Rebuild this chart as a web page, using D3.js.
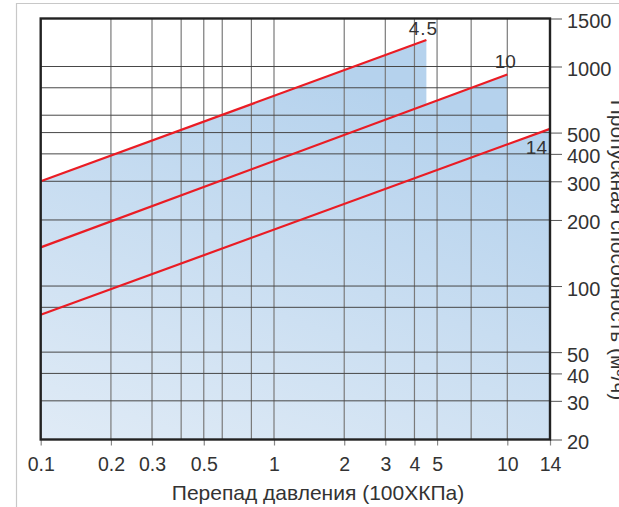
<!DOCTYPE html>
<html>
<head>
<meta charset="utf-8">
<script src="https://cdn.jsdelivr.net/npm/d3@7"></script>
<style>
  body { margin: 0; background: #fff; }
  text { font-family: "Liberation Sans", Arial, sans-serif; fill: #333; }
</style>
</head>
<body>
<svg width="619" height="507"></svg>
<script>
const svg = d3.select("svg");

// curve labels (max pressure) and their end points
const seriesNames = ["4.5", "10", "14"];
const startPressure = [0.1, 0.1, 0.1];
const endPressure = [4.5, 10, 14];
const startFlow = [300, 150, 74];
const endFlow = [1250, 920, 520];

// axis ticks and grid
const xTickValues = [0.1, 0.2, 0.3, 0.5, 1, 2, 3, 4, 5, 10, 14];
const xGridValues = [0.2, 0.3, 0.4, 0.5, 0.6, 0.8, 1, 2, 3, 4, 5, 7, 10];
const yTickValues = [20, 30, 40, 50, 100, 200, 300, 400, 500, 1000, 1500];
const yGridValues = [30, 40, 50, 80, 100, 200, 300, 400, 500, 600, 800, 1000];

const plotLeft = 40.7, plotRight = 550, plotTop = 18.5, plotBottom = 439.5;

// log scales; the last segment (10..14, 1000..1500) is drawn a bit stretched like the original
const xScale = d3.scaleLog().domain([0.1, 10, 14]).range([plotLeft, 507.3, plotRight]);
const yScale = d3.scaleLog().domain([20, 1000, 1500]).range([plotBottom, 66.5, plotTop]);

// outer light frame
svg.append("path")
  .attr("d", "M16.5,507 L16.5,3.5 L619,3.5")
  .attr("fill", "none")
  .attr("stroke", "#c8c8c8")
  .attr("stroke-width", 1.2);

// gradient for the area
const grad = svg.append("defs").append("linearGradient")
  .attr("id", "area")
  .attr("gradientUnits", "userSpaceOnUse")
  .attr("x1", plotLeft).attr("y1", plotBottom)
  .attr("x2", plotLeft + 150).attr("y2", plotTop);
grad.append("stop").attr("offset", "0%").attr("stop-color", "#e0ebf6");
grad.append("stop").attr("offset", "100%").attr("stop-color", "#b5d2ed");

const data = seriesNames.map((name, i) => ({
  name,
  p0: startPressure[i], p1: endPressure[i],
  q0: startFlow[i], q1: endFlow[i]
}));

// area under each curve
svg.selectAll("path.area")
  .data(data)
  .enter()
  .append("path")
  .attr("class", "area")
  .attr("fill", "url(#area)")
  .attr("d", d =>
    `M${xScale(d.p0)},${plotBottom} L${xScale(d.p0)},${yScale(d.q0)} ` +
    `L${xScale(d.p1)},${yScale(d.q1)} L${xScale(d.p1)},${plotBottom} Z`);

// vertical grid
svg.append("g").selectAll("line")
  .data(xGridValues)
  .enter()
  .append("line")
  .attr("x1", d => xScale(d)).attr("x2", d => xScale(d))
  .attr("y1", plotTop).attr("y2", plotBottom)
  .attr("stroke", "#7a7a7a")
  .attr("stroke-width", 1.2);

// horizontal grid
svg.append("g").selectAll("line")
  .data(yGridValues)
  .enter()
  .append("line")
  .attr("x1", plotLeft).attr("x2", plotRight)
  .attr("y1", d => yScale(d)).attr("y2", d => yScale(d))
  .attr("stroke", "#474747")
  .attr("stroke-width", 1);

// bottom axis
const xAxisG = svg.append("g")
  .attr("transform", `translate(0,${plotBottom})`)
  .call(d3.axisBottom(xScale).tickValues(xTickValues).tickFormat(d3.format("")).tickSize(6).tickPadding(12));
xAxisG.select(".domain").remove();
xAxisG.selectAll(".tick line").attr("stroke", "#888").attr("stroke-width", 1.2);
xAxisG.selectAll(".tick text")
  .attr("font-size", 19.5)
  .attr("font-family", "Liberation Sans, Arial, sans-serif")
  .attr("fill", "#333");

// right axis
const yAxisG = svg.append("g")
  .attr("transform", `translate(${plotRight},0)`)
  .call(d3.axisRight(yScale).tickValues(yTickValues).tickFormat(d3.format("")).tickSize(12).tickPadding(5));
yAxisG.select(".domain").remove();
yAxisG.selectAll(".tick line").attr("stroke", "#555");
yAxisG.selectAll(".tick text")
  .attr("font-size", 20)
  .attr("dy", "0.45em")
  .attr("font-family", "Liberation Sans, Arial, sans-serif")
  .attr("fill", "#333");

// red curves
svg.selectAll("line.curve")
  .data(data)
  .enter()
  .append("line")
  .attr("class", "curve")
  .attr("x1", d => xScale(d.p0)).attr("y1", d => yScale(d.q0))
  .attr("x2", d => xScale(d.p1)).attr("y2", d => yScale(d.q1))
  .attr("stroke", "#ea1c24")
  .attr("stroke-width", 2.2);

// plot frame
svg.append("rect")
  .attr("x", plotLeft).attr("y", plotTop)
  .attr("width", plotRight - plotLeft).attr("height", plotBottom - plotTop)
  .attr("fill", "none")
  .attr("stroke", "#222")
  .attr("stroke-width", 2.4);

// curve labels
const labelDx = [-3, -2, -3];
const labelDy = [-5, -6, 25];
const labelAnchor = ["middle", "middle", "end"];
svg.selectAll("text.curve-label")
  .data(data)
  .enter()
  .append("text")
  .attr("class", "curve-label")
  .attr("x", (d, i) => xScale(d.p1) + labelDx[i])
  .attr("y", (d, i) => yScale(d.q1) + labelDy[i])
  .attr("text-anchor", (d, i) => labelAnchor[i])
  .attr("font-size", 19)
  .attr("letter-spacing", (d, i) => i === 0 ? 1 : 0)
  .text(d => d.name);

// axis titles
svg.append("text")
  .attr("x", 318).attr("y", 500)
  .attr("text-anchor", "middle")
  .attr("font-size", 21)
  .text("Перепад давления (100ХКПа)");

// right title is cut off by the page edge, as in the original
svg.append("text")
  .attr("transform", "translate(611,250) rotate(90)")
  .attr("text-anchor", "middle")
  .attr("font-size", 21)
  .text("Пропускная способность (м³/ч)");
</script>
</body>
</html>
